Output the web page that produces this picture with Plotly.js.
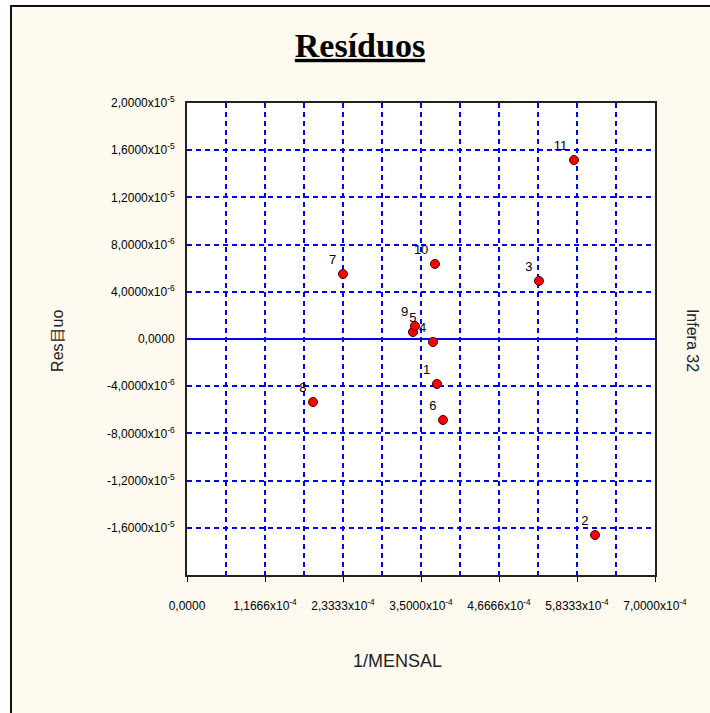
<!DOCTYPE html>
<html>
<head>
<meta charset="utf-8">
<script src="https://cdn.plot.ly/plotly-3.0.1.min.js"></script>
<style>
html,body{margin:0;padding:0;background:#ffffff;}
#bg{position:absolute;left:10px;top:5px;width:700px;height:708px;background:#fefaf0;border-left:2px solid #111;border-top:2px solid #111;box-sizing:border-box;}
#chart{position:absolute;left:0;top:0;width:710px;height:713px;}
</style>
</head>
<body>
<div id="bg"></div>
<div id="chart"></div>
<script>
// Data
var pointLabels = ['1','2','3','4','5','6','7','8','9','10','11'];
var xValues = [3.739e-4, 6.103e-4, 5.265e-4, 3.679e-4, 3.380e-4, 3.829e-4, 2.333e-4, 1.885e-4, 3.410e-4, 3.709e-4, 5.788e-4];
var yValues = [-3.81e-6, -1.661e-5, 4.92e-6, -2.5e-7, 5.9e-7, -6.86e-6, 5.51e-6, -5.34e-6, 1.10e-6, 6.36e-6, 1.517e-5];
var labelPositions = ['top left','top left','top left','top left','top center','top left','top left','top left','top left','top left','top left'];

var xTickVals = [0, 1.16667e-4, 2.33333e-4, 3.5e-4, 4.66667e-4, 5.83333e-4, 7e-4];
var xTickText = ['0,0000', '1,1666x10<sup>-4</sup>', '2,3333x10<sup>-4</sup>', '3,5000x10<sup>-4</sup>', '4,6666x10<sup>-4</sup>', '5,8333x10<sup>-4</sup>', '7,0000x10<sup>-4</sup>'];
var yTickVals = [-2e-5, -1.6e-5, -1.2e-5, -8e-6, -4e-6, 0, 4e-6, 8e-6, 1.2e-5, 1.6e-5, 2e-5];
var yTickText = ['', '-1,6000x10<sup>-5</sup>', '-1,2000x10<sup>-5</sup>', '-8,0000x10<sup>-6</sup>', '-4,0000x10<sup>-6</sup>', '0,0000', '4,0000x10<sup>-6</sup>', '8,0000x10<sup>-6</sup>', '1,2000x10<sup>-5</sup>', '1,6000x10<sup>-5</sup>', '2,0000x10<sup>-5</sup>'];

var titleText = 'Resíduos';
var xTitle = '1/MENSAL';
var yTitle = 'Res目uo';
var rightTitle = 'Infera 32';

var gridBlue = '#0000ff';

var trace = {
  type: 'scatter',
  mode: 'markers+text',
  x: xValues,
  y: yValues,
  text: pointLabels,
  textposition: labelPositions,
  textfont: {family: 'Liberation Sans, Arial, sans-serif', size: 13, color: '#000'},
  marker: {color: '#ff0000', size: 9, line: {color: '#3a0000', width: 1}},
  cliponaxis: false,
  hoverinfo: 'none'
};

var layout = {
  width: 710,
  height: 713,
  paper_bgcolor: 'rgba(0,0,0,0)',
  plot_bgcolor: '#ffffff',
  margin: {l: 187, r: 55, t: 103, b: 138, pad: 0},
  showlegend: false,
  font: {family: 'Liberation Sans, Arial, sans-serif', color: '#000'},
  title: {
    text: '<u>' + titleText + '</u>',
    font: {family: 'Liberation Serif, Times New Roman, serif', size: 34, weight: 'bold', color: '#000'},
    xref: 'container', x: 0.507, xanchor: 'center',
    yref: 'container', y: 0.937, yanchor: 'middle'
  },
  xaxis: {
    range: [0, 7e-4],
    tickmode: 'array',
    tickvals: xTickVals,
    ticktext: xTickText,
    tickangle: 0,
    ticks: 'outside',
    ticklen: 5,
    tickwidth: 1,
    tickcolor: '#000',
    ticklabelstandoff: 14,
    tickfont: {size: 12, color: '#000'},
    showgrid: true,
    gridcolor: gridBlue,
    gridwidth: 2,
    griddash: '5px,4px',
    minor: {tick0: 0, dtick: 7e-4/12, showgrid: true, gridcolor: gridBlue, gridwidth: 2, griddash: '5px,4px', ticks: ''},
    zeroline: false,
    showline: true,
    mirror: true,
    linecolor: '#222',
    linewidth: 2,
    fixedrange: true
  },
  yaxis: {
    range: [-2e-5, 2e-5],
    tickmode: 'array',
    tickvals: yTickVals,
    ticktext: yTickText,
    ticks: '',
    ticklabelstandoff: 8,
    tickfont: {size: 12, color: '#000'},
    showgrid: true,
    gridcolor: gridBlue,
    gridwidth: 2,
    griddash: '5px,4px',
    zeroline: true,
    zerolinecolor: gridBlue,
    zerolinewidth: 2,
    showline: true,
    mirror: true,
    linecolor: '#222',
    linewidth: 2,
    fixedrange: true
  },
  annotations: [
    {text: xTitle, xref: 'paper', yref: 'paper', x: 0.449, y: -0.182, xanchor: 'center', yanchor: 'middle', showarrow: false, font: {size: 18, color: '#222'}},
    {text: yTitle, xref: 'paper', yref: 'paper', x: -0.2756, y: 0.496, xanchor: 'center', yanchor: 'middle', textangle: -90, showarrow: false, font: {size: 16, color: '#222'}},
    {text: rightTitle, xref: 'paper', yref: 'paper', x: 1.079, y: 0.496, xanchor: 'center', yanchor: 'middle', textangle: 90, showarrow: false, font: {size: 16, color: '#222'}}
  ]
};

Plotly.newPlot('chart', [trace], layout, {displayModeBar: false, staticPlot: true});
</script>
</body>
</html>
